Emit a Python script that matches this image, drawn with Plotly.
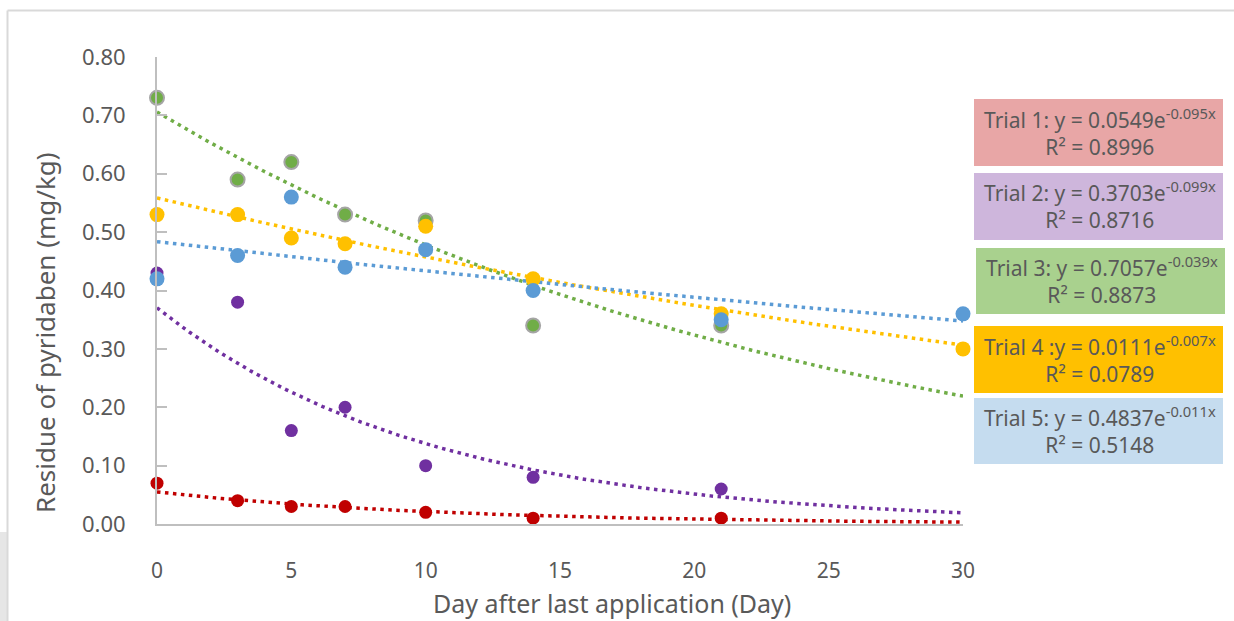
import numpy as np
import plotly.graph_objects as go

# ---- data ----
days = [0, 3, 5, 7, 10, 14, 21, 30]
trial1 = [0.07, 0.04, 0.03, 0.03, 0.02, 0.01, 0.01, None]
trial2 = [0.43, 0.38, 0.16, 0.20, 0.10, 0.08, 0.06, None]
trial3 = [0.73, 0.59, 0.62, 0.53, 0.52, 0.34, 0.34, None]
trial4 = [0.53, 0.53, 0.49, 0.48, 0.51, 0.42, 0.36, 0.30]
trial5 = [0.42, 0.46, 0.56, 0.44, 0.47, 0.40, 0.35, 0.36]

series_names = ["Trial 1", "Trial 2", "Trial 3", "Trial 4", "Trial 5"]
# exponential trendline coefficients (a, b) for y = a*exp(-b*x), as drawn
fit_a = [0.0549, 0.3703, 0.7057, 0.5585, 0.4837]
fit_b = [0.095, 0.099, 0.039, 0.020, 0.011]

label_eq = ["Trial 1: y = 0.0549e<sup>-0.095x</sup>",
            "Trial 2: y = 0.3703e<sup>-0.099x</sup>",
            "Trial 3: y = 0.7057e<sup>-0.039x</sup>",
            "Trial 4 :y = 0.0111e<sup>-0.007x</sup>",
            "Trial 5: y = 0.4837e<sup>-0.011x</sup>"]
label_r2 = ["R² = 0.8996", "R² = 0.8716", "R² = 0.8873", "R² = 0.0789", "R² = 0.5148"]

y_ticks = [0.0, 0.1, 0.2, 0.3, 0.4, 0.5, 0.6, 0.7, 0.8]
x_ticks = [0, 5, 10, 15, 20, 25, 30]

# ---- styles ----
colors = ["#C00000", "#7030A0", "#70AD47", "#FFC000", "#5B9BD5"]
box_colors = ["#E8A6A6", "#CEB6DC", "#A9D18E", "#FFC000", "#C5DCEF"]
marker_sizes = [13, 13, 14, 15, 15]
TXT = "#595959"
FONT = "Noto Sans"

W, H = 1234, 621
L, R, T, B = 157, W - 963, 57, 621 - 524
pw, ph = W - L - R, H - T - B


def px(x):
    return (x - L) / pw


def py(y):
    return (H - B - y) / ph


fig = go.Figure()
series = [trial1, trial2, trial3, trial4, trial5]
xs = np.linspace(0, 30, 301)

# trendlines first, then markers
for i in range(5):
    fig.add_trace(go.Scatter(
        x=xs, y=fit_a[i] * np.exp(-fit_b[i] * xs), mode="lines",
        line=dict(color=colors[i], width=3.5, dash="3.5px,4.5px"),
        hoverinfo="skip", showlegend=False))

for i, s in enumerate(series):
    fig.add_trace(go.Scatter(
        x=days, y=s, mode="markers", name=series_names[i],
        marker=dict(color=colors[i], size=marker_sizes[i],
                    line=dict(color="#A5A5A5" if i == 2 else colors[i],
                              width=2 if i == 2 else 0)),
        cliponaxis=False, showlegend=False))

shapes = []
# outer chart border (top & left) and grey strip
shapes.append(dict(type="rect", xref="paper", yref="paper",
                   x0=px(0), x1=px(7), y0=py(621), y1=py(532),
                   fillcolor="#E6E6E6", line=dict(width=0), layer="below"))
shapes.append(dict(type="line", xref="paper", yref="paper",
                   x0=px(7.5), x1=px(1234), y0=py(10.5), y1=py(10.5),
                   line=dict(color="#D9D9D9", width=2)))
shapes.append(dict(type="line", xref="paper", yref="paper",
                   x0=px(7.5), x1=px(7.5), y0=py(10.5), y1=py(621),
                   line=dict(color="#D9D9D9", width=2)))

# label boxes
boxes = [(974, 1223, 99, 166), (974, 1223, 173, 240), (976, 1225, 248, 314),
         (974, 1223, 326, 393), (974, 1223, 398, 464)]
annotations = []
for i, (x0, x1, y0, y1) in enumerate(boxes):
    shapes.append(dict(type="rect", xref="paper", yref="paper",
                       x0=px(x0), x1=px(x1), y0=py(y1), y1=py(y0),
                       fillcolor=box_colors[i], line=dict(width=0), layer="below"))
    annotations.append(dict(
        xref="paper", yref="paper", x=px((x0 + x1) / 2 + 1), y=py((y0 + y1) / 2 - 1),
        text=label_eq[i] + "<br>" + label_r2[i], showarrow=False,
        font=dict(family=FONT, size=21, color=TXT), align="center",
        xanchor="center", yanchor="middle"))

# axis titles
annotations.append(dict(xref="paper", yref="paper", x=px(45), y=py(333),
                        text="Residue of pyridaben (mg/kg)", textangle=-90,
                        showarrow=False, font=dict(family=FONT, size=26, color=TXT),
                        xanchor="center", yanchor="middle"))
annotations.append(dict(xref="paper", yref="paper", x=px(612), y=py(603),
                        text="Day after last application (Day)",
                        showarrow=False, font=dict(family=FONT, size=25, color=TXT),
                        xanchor="center", yanchor="middle"))

fig.update_layout(
    width=W, height=H, margin=dict(l=L, r=R, t=T, b=B),
    paper_bgcolor="white", plot_bgcolor="white",
    shapes=shapes, annotations=annotations, showlegend=False,
    xaxis=dict(range=[0, 30], tickvals=x_ticks, showgrid=False, zeroline=False,
               showline=True, linecolor="#BFBFBF", linewidth=2, ticks="",
               ticklabelstandoff=27,
               tickfont=dict(family=FONT, size=21, color=TXT)),
    yaxis=dict(range=[0, 0.8], tickvals=y_ticks, tickformat=".2f", showgrid=False,
               zeroline=False, showline=True, linecolor="#BFBFBF", linewidth=2,
               ticks="inside", ticklen=10, tickcolor="#BFBFBF", tickwidth=2,
               ticklabelstandoff=25,
               tickfont=dict(family=FONT, size=22, color=TXT)),
)

fig.write_html("out.html", config={"displayModeBar": False},
               post_script="document.body.style.margin='0px';")
